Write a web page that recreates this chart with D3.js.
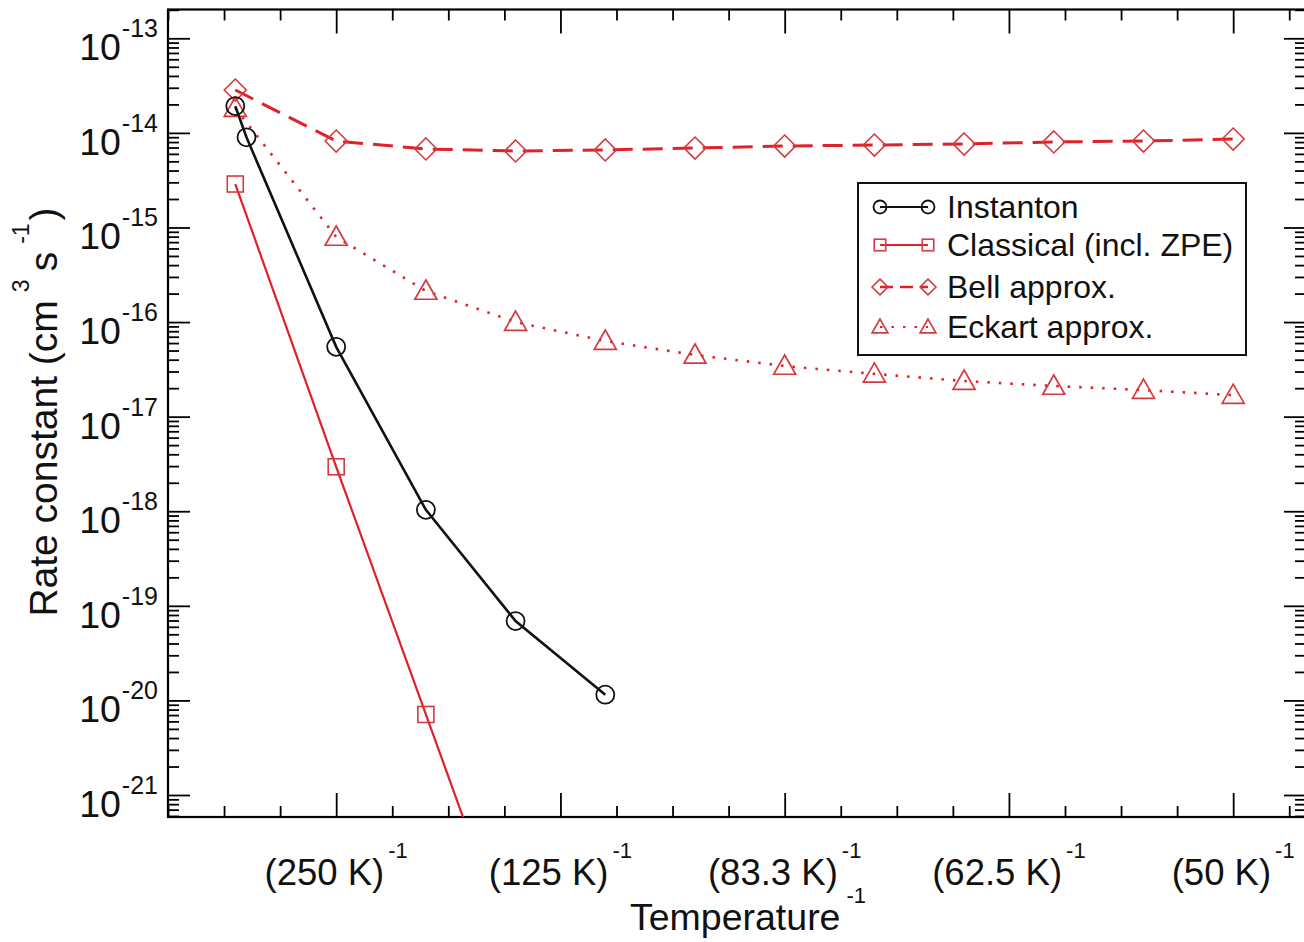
<!DOCTYPE html>
<html>
<head>
<meta charset="utf-8">
<script src="https://cdn.jsdelivr.net/npm/d3@7"></script>
<style>
  html, body { margin: 0; padding: 0; background: #fff; }
  svg { display: block; font-family: "Liberation Sans", Arial, Helvetica, sans-serif; }
</style>
</head>
<body>
<svg id="chart" width="1304" height="942"></svg>
<script>
// ---------------- data ----------------
const instantonInvT = [0.0022, 0.0024, 0.004, 0.0056, 0.0072, 0.0088];
const instantonK    = [1.92e-14, 8.98e-15, 5.47e-17, 1.035e-18, 6.9e-20, 1.15e-20];

const classicalInvT = [0.0022, 0.004, 0.0056, 0.0072];
const classicalK    = [2.88e-15, 2.95e-18, 7.1e-21, 1.7e-23];

const approxInvT = [0.0022, 0.004, 0.0056, 0.0072, 0.0088, 0.0104, 0.012, 0.0136, 0.0152, 0.0168, 0.0184, 0.02];
const bellK      = [2.84e-14, 8.2e-15, 6.76e-15, 6.44e-15, 6.6e-15, 6.92e-15, 7.26e-15, 7.44e-15, 7.63e-15, 8.02e-15, 8.2e-15, 8.61e-15];
const eckartK    = [1.83e-14, 7.93e-16, 2.13e-16, 1.0e-16, 6.3e-17, 4.49e-17, 3.43e-17, 2.83e-17, 2.38e-17, 2.11e-17, 1.91e-17, 1.69e-17];

const xTickValues = [0.004, 0.008, 0.012, 0.016, 0.020];
const xTickLabels = ["250", "125", "83.3", "62.5", "50"];
const yTickExponents = [-13, -14, -15, -16, -17, -18, -19, -20, -21];

const legendLabels = ["Instanton", "Classical (incl. ZPE)", "Bell approx.", "Eckart approx."];

// ---------------- layout ----------------
const svg = d3.select("#chart");
const W = 1304, H = 942;
const L = 168, R = 1306, T = 9.5, B = 817;
const RED = "#e0202a";
const MRED = "#d43a3f";

svg.append("rect").attr("width", W).attr("height", H).attr("fill", "#fff");

const x = d3.scaleLinear().domain([0.001, 0.001 + (R - L) / 56062]).range([L, R]);
const y = d3.scaleLog().domain([Math.pow(10, -21.2326), Math.pow(10, -12.6955)]).range([B, T]);

svg.append("clipPath").attr("id", "clip")
  .append("rect").attr("x", L).attr("y", T).attr("width", R - L).attr("height", B - T);

// ---------------- axes ----------------
const majorY = yTickExponents.map(e => Math.pow(10, e));
const minorY = [];
for (let e = -22; e <= -13; e++) for (let m = 2; m <= 9; m++) {
  const v = m * Math.pow(10, e);
  if (v > y.domain()[0] && v < y.domain()[1]) minorY.push(v);
}
const majorX = xTickValues;
const minorX = d3.range(1, 22).map(i => i / 1000).filter(v => v <= x.domain()[1] && !majorX.some(m => Math.abs(m - v) < 1e-9));

function styleAxis(g) {
  g.select(".domain").remove();
  g.selectAll("line").attr("stroke", "#000").attr("stroke-width", 1.8);
}

svg.append("g").attr("transform", `translate(${L},0)`)
  .call(d3.axisLeft(y).tickValues(majorY).tickSizeInner(-22).tickSizeOuter(0).tickFormat("")).call(styleAxis);
svg.append("g").attr("transform", `translate(${L},0)`)
  .call(d3.axisLeft(y).tickValues(minorY).tickSizeInner(-11).tickSizeOuter(0).tickFormat("")).call(styleAxis);
svg.append("g").attr("transform", `translate(${R},0)`)
  .call(d3.axisRight(y).tickValues(majorY).tickSizeInner(-22).tickSizeOuter(0).tickFormat("")).call(styleAxis);
svg.append("g").attr("transform", `translate(${R},0)`)
  .call(d3.axisRight(y).tickValues(minorY).tickSizeInner(-11).tickSizeOuter(0).tickFormat("")).call(styleAxis);
svg.append("g").attr("transform", `translate(0,${B})`)
  .call(d3.axisBottom(x).tickValues(majorX).tickSizeInner(-24).tickSizeOuter(0).tickFormat("")).call(styleAxis);
svg.append("g").attr("transform", `translate(0,${B})`)
  .call(d3.axisBottom(x).tickValues(minorX).tickSizeInner(-11).tickSizeOuter(0).tickFormat("")).call(styleAxis);
svg.append("g").attr("transform", `translate(0,${T})`)
  .call(d3.axisTop(x).tickValues(majorX).tickSizeInner(-24).tickSizeOuter(0).tickFormat("")).call(styleAxis);
svg.append("g").attr("transform", `translate(0,${T})`)
  .call(d3.axisTop(x).tickValues(minorX).tickSizeInner(-11).tickSizeOuter(0).tickFormat("")).call(styleAxis);

svg.append("rect").attr("x", L).attr("y", T).attr("width", R - L).attr("height", B - T)
  .attr("fill", "none").attr("stroke", "#000").attr("stroke-width", 2.2);

// y tick labels
yTickExponents.forEach(e => {
  const t = svg.append("text").attr("x", 158).attr("y", y(Math.pow(10, e)) + 22)
    .attr("text-anchor", "end").attr("fill", "#111");
  t.append("tspan").attr("font-size", 37.5).text("10");
  t.append("tspan").attr("font-size", 25).attr("dx", 1).attr("dy", -23).text("-" + String(-e));
});

// x tick labels
xTickValues.forEach((v, i) => {
  const t = svg.append("text").attr("x", x(v)).attr("y", 885)
    .attr("text-anchor", "middle").attr("fill", "#111");
  t.append("tspan").attr("font-size", 36.5).text("(" + xTickLabels[i] + " K)");
  t.append("tspan").attr("font-size", 22).attr("dx", 4).attr("dy", -27).text("-1");
});

// axis titles
{
  const t = svg.append("text").attr("x", 748).attr("y", 930).attr("text-anchor", "middle").attr("fill", "#111");
  t.append("tspan").attr("font-size", 37.5).text("Temperature");
  t.append("tspan").attr("font-size", 22).attr("dx", 6).attr("dy", -27).text("-1");
}
{
  const t = svg.append("text").attr("transform", "translate(57,412) rotate(-90)")
    .attr("text-anchor", "middle").attr("fill", "#111");
  t.append("tspan").attr("font-size", 39).text("Rate constant (cm");
  t.append("tspan").attr("font-size", 23).attr("dx", 8).attr("dy", -28).text("3");
  t.append("tspan").attr("font-size", 39).attr("dx", 8).attr("dy", 28).text("s");
  t.append("tspan").attr("font-size", 23).attr("dx", 8).attr("dy", -28).text("-1");
  t.append("tspan").attr("font-size", 39).attr("dx", 3).attr("dy", 28).text(")");
}

// ---------------- series ----------------
const plot = svg.append("g").attr("clip-path", "url(#clip)");
const line = d3.line().x(d => x(d[0])).y(d => y(d[1]));

function zip(a, b) { return a.map((v, i) => [v, b[i]]); }

const series = [
  { name: legendLabels[0], data: zip(instantonInvT, instantonK), color: "#111", mcolor: "#111", width: 2.6, dash: null, sym: "circle" },
  { name: legendLabels[1], data: zip(classicalInvT, classicalK), color: RED, mcolor: MRED, width: 2.2, dash: null, sym: "square" },
  { name: legendLabels[2], data: zip(approxInvT, bellK), color: RED, mcolor: MRED, width: 3, dash: "20,10", sym: "diamond" },
  { name: legendLabels[3], data: zip(approxInvT, eckartK), color: RED, mcolor: MRED, width: 2.6, dash: "2.5,9", sym: "triangle" }
];

function drawMarker(g, sym, cx, cy, color, s) {
  if (sym === "circle") {
    g.append("circle").attr("cx", cx).attr("cy", cy).attr("r", 9 * s)
      .attr("fill", "none").attr("stroke", color).attr("stroke-width", 1.8);
  } else if (sym === "square") {
    const h = 8 * s;
    g.append("rect").attr("x", cx - h).attr("y", cy - h).attr("width", 2 * h).attr("height", 2 * h)
      .attr("fill", "none").attr("stroke", color).attr("stroke-width", 1.6);
  } else if (sym === "diamond") {
    const h = 11 * s;
    g.append("path").attr("d", `M${cx},${cy - h}L${cx + h},${cy}L${cx},${cy + h}L${cx - h},${cy}Z`)
      .attr("fill", "none").attr("stroke", color).attr("stroke-width", 1.6);
  } else {
    const h = 11 * s;
    g.append("path").attr("d", `M${cx},${cy - h}L${cx + h},${cy + h * 0.75}L${cx - h},${cy + h * 0.75}Z`)
      .attr("fill", "none").attr("stroke", color).attr("stroke-width", 1.7);
  }
}

[...series].reverse().forEach(s => {
  plot.append("path").datum(s.data).attr("d", line)
    .attr("fill", "none").attr("stroke", s.color).attr("stroke-width", s.width)
    .attr("stroke-dasharray", s.dash);
  const mg = plot.append("g");
  s.data.forEach(d => drawMarker(mg, s.sym, x(d[0]), y(d[1]), s.mcolor, 1));
});

// ---------------- legend ----------------
const lg = svg.append("g");
lg.append("rect").attr("x", 858).attr("y", 183).attr("width", 388).attr("height", 172)
  .attr("fill", "#fff").attr("stroke", "#111").attr("stroke-width", 2);
const rowY = [207, 245, 287, 327];
series.forEach((s, i) => {
  const cy = rowY[i];
  lg.append("line").attr("x1", 880).attr("x2", 928).attr("y1", cy).attr("y2", cy)
    .attr("stroke", s.color).attr("stroke-width", s.width * 0.85)
    .attr("stroke-dasharray", s.dash === "20,10" ? "13,7" : s.dash);
  drawMarker(lg, s.sym, 880, cy, s.mcolor, 0.72);
  drawMarker(lg, s.sym, 928, cy, s.mcolor, 0.72);
  lg.append("text").attr("x", 947).attr("y", cy + 11).attr("font-size", 32).attr("fill", "#111").text(s.name);
});
</script>
</body>
</html>
